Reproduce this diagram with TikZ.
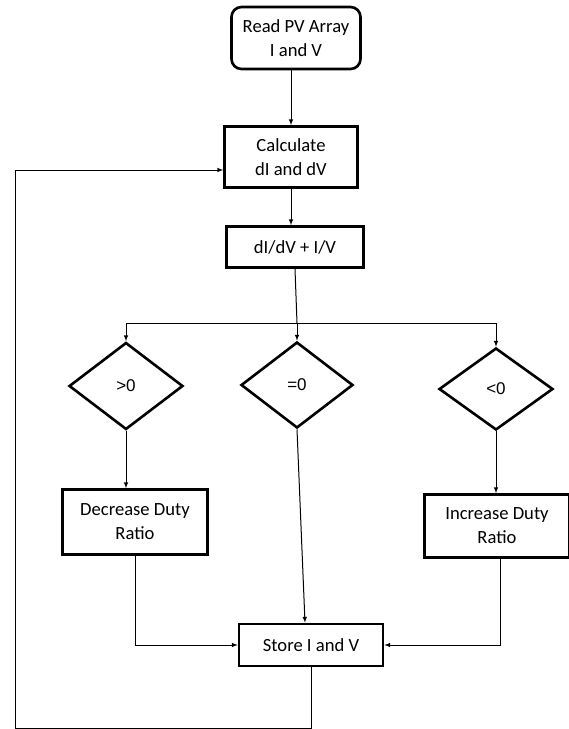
\documentclass[tikz,border=0pt]{standalone}
\usepackage{fontspec}
\setmainfont{Carlito}
\newfontfamily\arialfont{Liberation Sans}
\usetikzlibrary{arrows,shapes.geometric}

\begin{document}
\begin{tikzpicture}[x=1pt,y=-1pt,>=latex,
    box/.style={draw,line width=2.6pt,align=center,inner sep=0pt,
      font=\fontsize{18.6}{24}\selectfont},
    test/.style={draw,diamond,line width=2.6pt,inner sep=0pt,
      font=\arialfont\fontsize{17}{20}\selectfont},
    flow/.style={line width=1pt}]
  \useasboundingbox (0,0) rectangle (569,729);
  \def\Ra{(296, 38)}
  \def\Ca{(291,157)}
  \def\Sa{(295,247)}
  \def\Ga{(126,386)}
  \def\Ea{(297,385)}
  \def\La{(496,389)}
  \def\Da{(135,522)}
  \def\Ia{(497,526)}
  \def\Ta{(311,645)}
  \node[box,rounded corners=10pt,minimum width=129,minimum height=62] (read) at \Ra {Read PV Array\\I and V};
  \node[box,minimum width=133,minimum height=61] (calc) at \Ca {Calculate\\dI and dV};
  \node[box,minimum width=137,minimum height=41] (sum) at \Sa {dI/dV + I/V};
  \node[test,minimum width=114,minimum height=87] (gt) at \Ga {>0};
  \node[test,minimum width=112,minimum height=86] (eq) at \Ea {=0};
  \node[test,minimum width=114,minimum height=82] (lt) at \La {<0};
  \node[box,minimum width=145,minimum height=65] (dec) at \Da {Decrease Duty\\Ratio};
  \node[box,minimum width=145,minimum height=63] (inc) at \Ia {Increase Duty\\Ratio};
  \node[box,minimum width=144,minimum height=42] (store) at \Ta {Store I and V};
  \coordinate (split) at (297,323);
  \coordinate (back) at (15,728);
  \draw[flow,->] (read.south -| calc) -- (calc.north);
  \draw[flow,->] (calc.south) -- (calc.south |- sum.north);
  \draw[flow] (sum.south) -- (split);
  \draw[flow,->] (split) -| (gt.north);
  \draw[flow,->] (split) -- (eq.north);
  \draw[flow,->] (split) -| (lt.north);
  \draw[flow,->] (gt.south) -- (gt.south |- dec.north);
  \draw[flow,->] (eq.south) -- ([xshift=-6pt]store.north);
  \draw[flow,->] (lt.south) -- (lt.south |- inc.north);
  \draw[flow,->] (dec.south) |- (store.west);
  \draw[flow,->] ([xshift=3pt]inc.south) |- (store.east);
  \draw[flow,->] (store.south) |- (back) |- ([yshift=-13pt]calc.west);
\end{tikzpicture}
\end{document}
